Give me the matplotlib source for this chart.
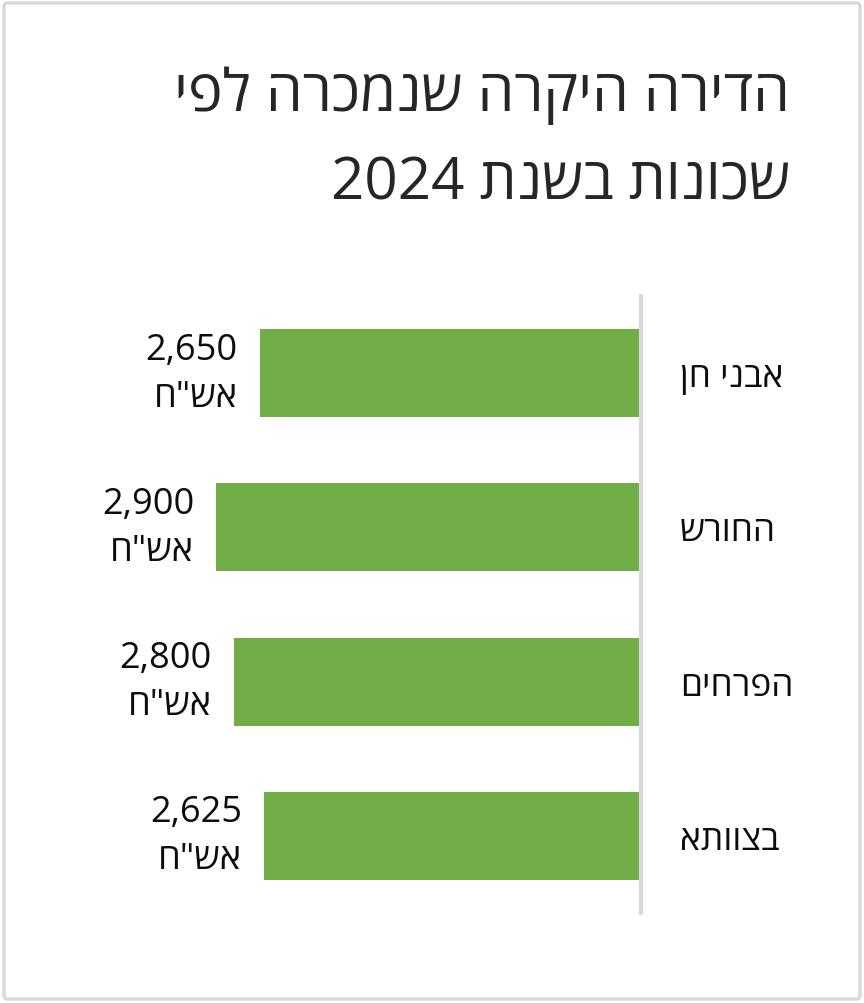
import matplotlib
matplotlib.use("Agg")
import matplotlib.pyplot as plt
import matplotlib.transforms as mtransforms
from matplotlib.patches import FancyBboxPatch
import numpy as np
import re

# ---- data ----
categories = ["אבני חן", "החורש", "הפרחים", "בצוותא"]
values = [2650, 2900, 2800, 2625]
value_labels = ["2,650", "2,900", "2,800", "2,625"]
unit_label = "אש\"ח"
title_line1 = "הדירה היקרה שנמכרה לפי"
title_line2 = "שכונות בשנת 2024"


def rtl(s):
    """Visual order for a right-to-left string (matplotlib draws glyphs left to right)."""
    r = s[::-1]
    return re.sub(r"[0-9][0-9,.]*", lambda m: m.group(0)[::-1], r)


FONT = ["Open Sans", "DejaVu Sans"]
W, H = 864, 1004
fig = plt.figure(figsize=(W / 100, H / 100), dpi=100)
fig.patch.set_facecolor("white")

# outer rounded border
border = FancyBboxPatch((4 / W, 4 / H), (W - 8) / W, (H - 8) / H,
                        boxstyle="round,pad=0,rounding_size=0.004",
                        transform=fig.transFigure, facecolor="none",
                        edgecolor="#d9d9d9", linewidth=2.5)
fig.patches.append(border)

# axes: right edge (axis line) at x=640px
ax_left, ax_right = 100, 641
ax_top, ax_bottom = 297, 914
ax = fig.add_axes([ax_left / W, (H - ax_bottom) / H,
                   (ax_right - ax_left) / W, (ax_bottom - ax_top) / H])
ax.set_facecolor("none")

y = np.arange(len(categories))
ax.barh(y, values, height=0.57, color="#70AD47", zorder=2)
ax.set_xlim(3571, 450)
ax.set_ylim(len(categories) - 0.5, -0.5)

for s in ["top", "bottom", "left"]:
    ax.spines[s].set_visible(False)
ax.spines["right"].set_color("#d9d9d9")
ax.spines["right"].set_linewidth(3)
ax.spines["right"].set_zorder(3)
ax.set_xticks([])
ax.set_yticks([])

# value labels
for yi, v, lab in zip(y, values, value_labels):
    ax.annotate(lab + "\n" + rtl(unit_label), xy=(v, yi), xytext=(-16, 0),
                textcoords="offset points", ha="right", va="center",
                multialignment="right", fontsize=26, family=FONT,
                color="#0d0d0d", linespacing=1.4)

# category labels (left edge at x=680px)
trans = mtransforms.blended_transform_factory(fig.transFigure, ax.transData) + \
    mtransforms.ScaledTranslation(0, -0.13, fig.dpi_scale_trans)
for yi, cat in zip(y, categories):
    ax.text(680 / W, yi, rtl(cat), transform=trans, ha="left", va="baseline",
            fontsize=25.5, family=FONT, color="#0d0d0d", clip_on=False)

# title
fig.text(790 / W, 1 - 111 / H, rtl(title_line1), ha="right", va="baseline",
         fontsize=42, family=FONT, color="#262626")
fig.text(790 / W, 1 - 199 / H, rtl(title_line2), ha="right", va="baseline",
         fontsize=42, family=FONT, color="#262626")

fig.savefig("out.png", dpi=100, facecolor="white")
